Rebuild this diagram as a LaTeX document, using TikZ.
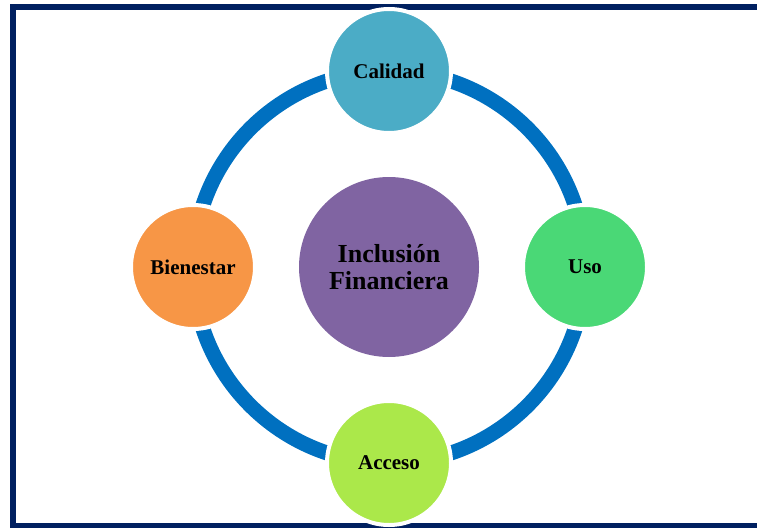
\documentclass[tikz,border=0pt]{standalone}
\usepackage{fontspec}
\setmainfont{Liberation Serif}
\definecolor{framenavy}{HTML}{002060}
\definecolor{ringblue}{HTML}{0070C0}
\definecolor{cCalidad}{HTML}{4BACC6}
\definecolor{cUso}{HTML}{4AD876}
\definecolor{cAcceso}{HTML}{ABE84A}
\definecolor{cBienestar}{HTML}{F79646}
\definecolor{cCentro}{HTML}{8064A2}
\tikzset{
  outer/.style={circle, draw=white, line width=4pt, minimum size=124pt, inner sep=0pt,
    font=\fontsize{21}{24}\selectfont\bfseries, text=black},
  hub/.style={circle, fill=cCentro, minimum size=180pt, inner sep=0pt, align=center,
    font=\fontsize{26}{27}\selectfont\bfseries, text=black}
}
\begin{document}
\begin{tikzpicture}[x=1pt,y=-1pt]
  \useasboundingbox (0,0) rectangle (757,527);
  \begin{scope}
    \clip (0,0) rectangle (757,527);
    \draw[framenavy, line width=6pt] (13,7) rectangle (790,525.5);
  \end{scope}
  \coordinate (o) at (389,267);
  \draw[ringblue, line width=15pt] (o) circle[radius=196];
  \node[hub] (inc) at (o) {Inclusión\\Financiera};
  \node[outer, fill=cCalidad] (cal) at (389,71) {Calidad};
  \node[outer, fill=cUso] (uso) at (585,267) {Uso};
  \node[outer, fill=cAcceso] (acc) at (389,463) {Acceso};
  \node[outer, fill=cBienestar] (bie) at (193,267) {Bienestar};
\end{tikzpicture}
\end{document}
